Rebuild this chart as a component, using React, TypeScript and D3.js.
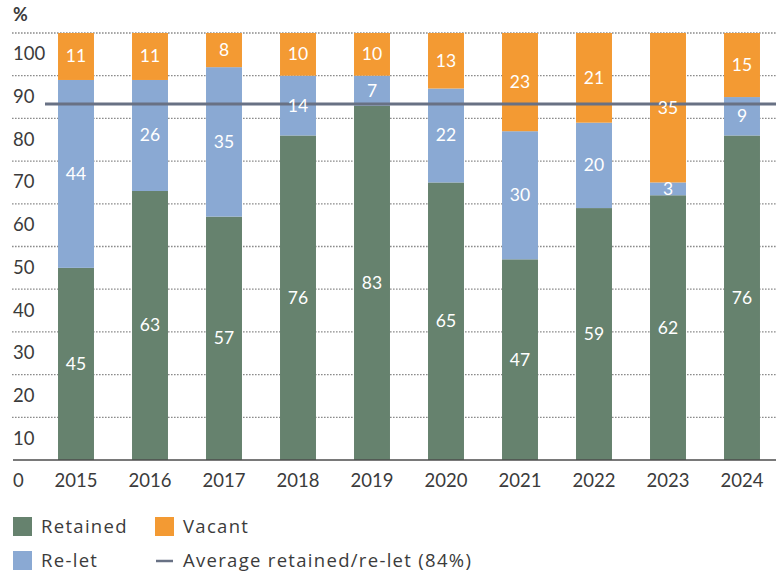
import * as d3 from 'd3';
import { useEffect, useRef } from 'react';

const years = ['2015', '2016', '2017', '2018', '2019', '2020', '2021', '2022', '2023', '2024'];
const retained = [45, 63, 57, 76, 83, 65, 47, 59, 62, 76];
const relet = [44, 26, 35, 14, 7, 22, 30, 20, 3, 9];
const vacant = [11, 11, 8, 10, 10, 13, 23, 21, 35, 15];
const yTicks = [0, 10, 20, 30, 40, 50, 60, 70, 80, 90, 100];
const avgLabel = 84;
const avgLineValue = 83.4; // where the line sits in the picture

const series = [
  { key: 'retained', name: 'Retained', color: '#66826e', values: retained },
  { key: 'relet', name: 'Re-let', color: '#8aa9d3', values: relet },
  { key: 'vacant', name: 'Vacant', color: '#f39a33', values: vacant },
];

const W = 776;
const H = 579;
const FONT = 'Lato, "Open Sans", sans-serif';
const LEGEND_FONT = '"Open Sans", Lato, sans-serif';
const TEXT = '#3b3b3b';

export default function App() {
  const ref = useRef<SVGSVGElement>(null);

  useEffect(() => {
    const svg = d3.select(ref.current);
    svg.selectAll('*').remove();

    const x = d3.scaleBand<string>()
      .domain(years)
      .range([39, 779])
      .paddingInner(0.514)
      .paddingOuter(0.257);

    const y = d3.scaleLinear().domain([0, 100]).range([460, 33]);

    const rows = years.map((yr, i) => ({
      year: yr,
      retained: retained[i],
      relet: relet[i],
      vacant: vacant[i],
    }));
    const stacked = d3.stack<any>().keys(series.map(s => s.key))(rows);

    // dotted gridlines
    svg.append('g')
      .selectAll('line')
      .data(yTicks.filter(t => t > 0))
      .enter()
      .append('line')
      .attr('x1', 12)
      .attr('x2', W)
      .attr('y1', d => y(d))
      .attr('y2', d => y(d))
      .attr('stroke', '#8c8c8c')
      .attr('stroke-width', 1.3)
      .attr('stroke-dasharray', '1.6,1.4');

    // y tick labels sit half a step below their line
    svg.append('g')
      .selectAll('text')
      .data(yTicks)
      .enter()
      .append('text')
      .attr('x', 13)
      .attr('y', d => y(d - 5) + 6)
      .text(d => d)
      .style('font-family', FONT)
      .style('font-size', '18.5px')
      .attr('fill', TEXT);

    svg.append('text')
      .attr('x', 13)
      .attr('y', 21)
      .text('%')
      .style('font-family', FONT)
      .style('font-size', '18px')
      .style('font-weight', 'bold')
      .attr('fill', TEXT);

    // stacked bars
    stacked.forEach((layer, li) => {
      const g = svg.append('g');
      g.selectAll('rect')
        .data(layer)
        .enter()
        .append('rect')
        .attr('x', d => x(d.data.year)!)
        .attr('width', x.bandwidth())
        .attr('y', d => y(d[1]))
        .attr('height', d => y(d[0]) - y(d[1]))
        .attr('fill', series[li].color);
    });

    // baseline
    svg.append('line')
      .attr('x1', 13)
      .attr('x2', W)
      .attr('y1', y(0))
      .attr('y2', y(0))
      .attr('stroke', '#4d4d4d')
      .attr('stroke-width', 1.5);

    // average line
    svg.append('line')
      .attr('x1', 45)
      .attr('x2', W)
      .attr('y1', y(avgLineValue))
      .attr('y2', y(avgLineValue))
      .attr('stroke', '#687184')
      .attr('stroke-width', 3);

    // segment labels
    stacked.forEach(layer => {
      svg.append('g')
        .selectAll('text')
        .data(layer)
        .enter()
        .append('text')
        .attr('x', d => x(d.data.year)! + x.bandwidth() / 2)
        .attr('y', d => (y(d[0]) + y(d[1])) / 2 + 6)
        .attr('text-anchor', 'middle')
        .text(d => d[1] - d[0])
        .style('font-family', FONT)
        .style('font-size', '17.5px')
        .attr('fill', '#ffffff');
    });

    // year labels
    svg.append('g')
      .selectAll('text')
      .data(years)
      .enter()
      .append('text')
      .attr('x', d => x(d)! + x.bandwidth() / 2)
      .attr('y', 487)
      .attr('text-anchor', 'middle')
      .text(d => d)
      .style('font-family', FONT)
      .style('font-size', '18.5px')
      .attr('fill', TEXT);

    // legend
    const legend = [
      { name: 'Retained', color: series[0].color, x: 13, y: 527, type: 'box' },
      { name: 'Vacant', color: series[2].color, x: 155, y: 527, type: 'box' },
      { name: 'Re-let', color: series[1].color, x: 13, y: 561, type: 'box' },
      { name: `Average retained/re-let (${avgLabel}%)`, color: '#687184', x: 155, y: 561, type: 'line' },
    ];
    const lg = svg.append('g');
    legend.forEach(l => {
      if (l.type === 'box') {
        lg.append('rect')
          .attr('x', l.x)
          .attr('y', l.y - 10)
          .attr('width', 19)
          .attr('height', 19)
          .attr('fill', l.color);
      } else {
        lg.append('line')
          .attr('x1', l.x + 1)
          .attr('x2', l.x + 18)
          .attr('y1', l.y)
          .attr('y2', l.y)
          .attr('stroke', l.color)
          .attr('stroke-width', 2.5);
      }
      lg.append('text')
        .attr('x', l.x + 28)
        .attr('y', l.y + 6)
        .text(l.name)
        .style('font-family', LEGEND_FONT)
        .style('font-size', '18.5px')
        .style('letter-spacing', '1.3px')
        .attr('fill', TEXT);
    });

    return () => {
      svg.selectAll('*').remove();
    };
  }, []);

  return (
    <svg
      ref={ref}
      width={W}
      height={H}
      style={{ position: 'absolute', left: 0, top: 0, display: 'block', background: '#fff' }}
    />
  );
}
